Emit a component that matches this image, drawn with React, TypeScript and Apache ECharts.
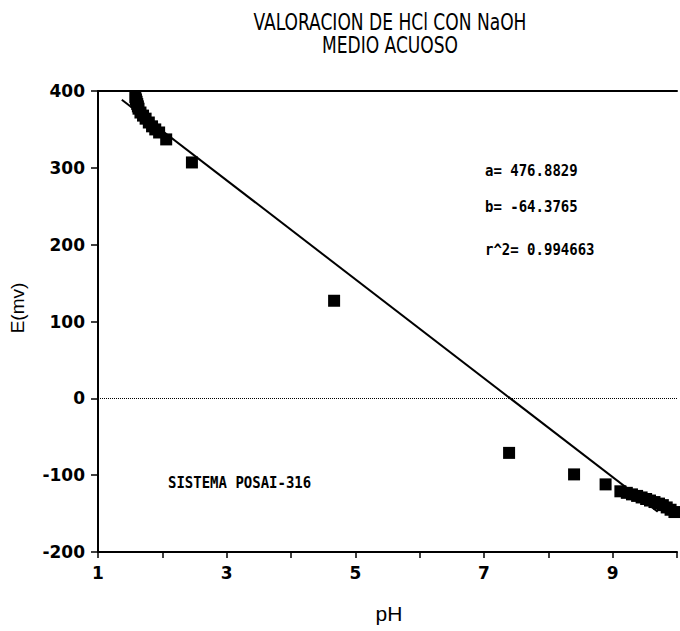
import React, { useEffect, useRef } from "react";
import * as echarts from "echarts";

// Titration of HCl with NaOH in water: potential E (mV) against pH
const titleLines = ["VALORACION DE HCl CON NaOH", "MEDIO ACUOSO"];

const phValues = [
  1.58, 1.59, 1.6, 1.61, 1.62, 1.63, 1.66, 1.7, 1.74, 1.79, 1.84, 1.89, 1.95,
  2.06, 2.46, 4.67, 7.39, 8.4, 8.89, 9.12, 9.22, 9.3, 9.38, 9.45, 9.52, 9.58,
  9.65, 9.72, 9.78, 9.84, 9.9, 9.96,
];
const eValues = [
  392, 389, 386, 383, 380, 377, 372, 368, 364, 359, 354, 350, 346, 337, 307,
  127, -71, -99, -112, -121, -123, -125, -127, -129, -131, -133, -135, -137,
  -139, -142, -145, -148,
];

// Least-squares fit E = a + b * pH
const fitA = 476.8829;
const fitB = -64.3765;
const fitR2 = 0.994663;
const fitRange = [1.37, 9.7];

const xTicks = { min: 1, max: 10, interval: 1 };
const yTicks = { min: -200, max: 400, interval: 100 };

const fitLabels = [`a= ${fitA.toFixed(4)}`, `b= ${fitB.toFixed(4)}`, `r^2= ${fitR2}`];
const systemLabel = "SISTEMA POSAI-316";

export default function App() {
  const ref = useRef<HTMLDivElement>(null);

  useEffect(() => {
    if (!ref.current) return;
    const chart = echarts.init(ref.current, undefined, { renderer: "svg" });

    const points = phValues.map((p, i) => [p, eValues[i]]);
    const fitLine = fitRange.map((p) => [p, fitA + fitB * p]);

    const tickFont = {
      fontFamily: "'DejaVu Sans', sans-serif",
      fontWeight: "bold" as const,
      fontSize: 17,
      color: "#000",
    };
    const monoFont = "bold 14px 'DejaVu Sans Mono', monospace";
    const titleFont = "19px 'Liberation Sans Narrow', 'DejaVu Sans Condensed', sans-serif";

    const titleText = (text: string, y: number) => ({
      type: "text",
      x: 390,
      y,
      scaleY: 1.2,
      style: { text, font: titleFont, fill: "#000", textAlign: "center", textVerticalAlign: "middle" },
    });

    const monoText = (text: string, x: number, y: number) => ({
      type: "text",
      x,
      y,
      scaleY: 1.15,
      style: { text, font: monoFont, fill: "#000", textAlign: "left", textVerticalAlign: "middle" },
    });

    chart.setOption({
      animation: false,
      backgroundColor: "#fff",
      grid: { left: 98, right: -3, top: 91, bottom: 79 },
      xAxis: [
        {
          type: "value",
          min: xTicks.min,
          max: xTicks.max,
          interval: xTicks.interval,
          position: "bottom",
          axisLine: { show: true, onZero: false, lineStyle: { color: "#000", width: 2 } },
          axisTick: { show: true, inside: false, length: 6, lineStyle: { color: "#000", width: 1.5 } },
          axisLabel: {
            ...tickFont,
            margin: 12,
            formatter: (v: number) => (Math.round(v) % 2 === 1 ? String(v) : ""),
          },
          splitLine: { show: false },
        },
        {
          type: "value",
          min: xTicks.min,
          max: xTicks.max,
          position: "top",
          axisLine: { show: true, onZero: false, lineStyle: { color: "#000", width: 2 } },
          axisTick: { show: false },
          axisLabel: { show: false },
          splitLine: { show: false },
        },
      ],
      yAxis: {
        type: "value",
        min: yTicks.min,
        max: yTicks.max,
        interval: yTicks.interval,
        axisLine: { show: true, onZero: false, lineStyle: { color: "#000", width: 2 } },
        axisTick: { show: true, inside: false, length: 7, lineStyle: { color: "#000", width: 1.5 } },
        axisLabel: { ...tickFont, margin: 13 },
        splitLine: { show: false },
      },
      series: [
        {
          type: "line",
          data: fitLine,
          xAxisIndex: 0,
          symbol: "none",
          lineStyle: { color: "#000", width: 2 },
          silent: true,
          z: 2,
        },
        {
          type: "scatter",
          data: points,
          xAxisIndex: 0,
          symbol: "rect",
          symbolSize: 12,
          itemStyle: { color: "#000", opacity: 1 },
          z: 3,
          markLine: {
            silent: true,
            symbol: "none",
            label: { show: false },
            lineStyle: { color: "#000", width: 1, type: "dotted" },
            data: [{ yAxis: 0 }],
          },
        },
      ],
      graphic: [
        titleText(titleLines[0], 22),
        titleText(titleLines[1], 45),
        {
          type: "text",
          x: 17,
          y: 308,
          rotation: Math.PI / 2,
          style: {
            text: "E(mv)",
            font: "19px 'Liberation Sans', Arial, sans-serif",
            fill: "#000",
            textAlign: "center",
            textVerticalAlign: "middle",
          },
        },
        {
          type: "text",
          x: 389,
          y: 613,
          style: {
            text: "pH",
            font: "21px 'Liberation Sans', Arial, sans-serif",
            fill: "#000",
            textAlign: "center",
            textVerticalAlign: "middle",
          },
        },
        ...fitLabels.map((t, i) => monoText(t, 485, [171, 207, 250][i])),
        monoText(systemLabel, 168, 483),
      ],
    });

    return () => chart.dispose();
  }, []);

  return (
    <div
      ref={ref}
      style={{ position: "fixed", left: 0, top: 0, width: 680, height: 631, background: "#fff" }}
    />
  );
}
